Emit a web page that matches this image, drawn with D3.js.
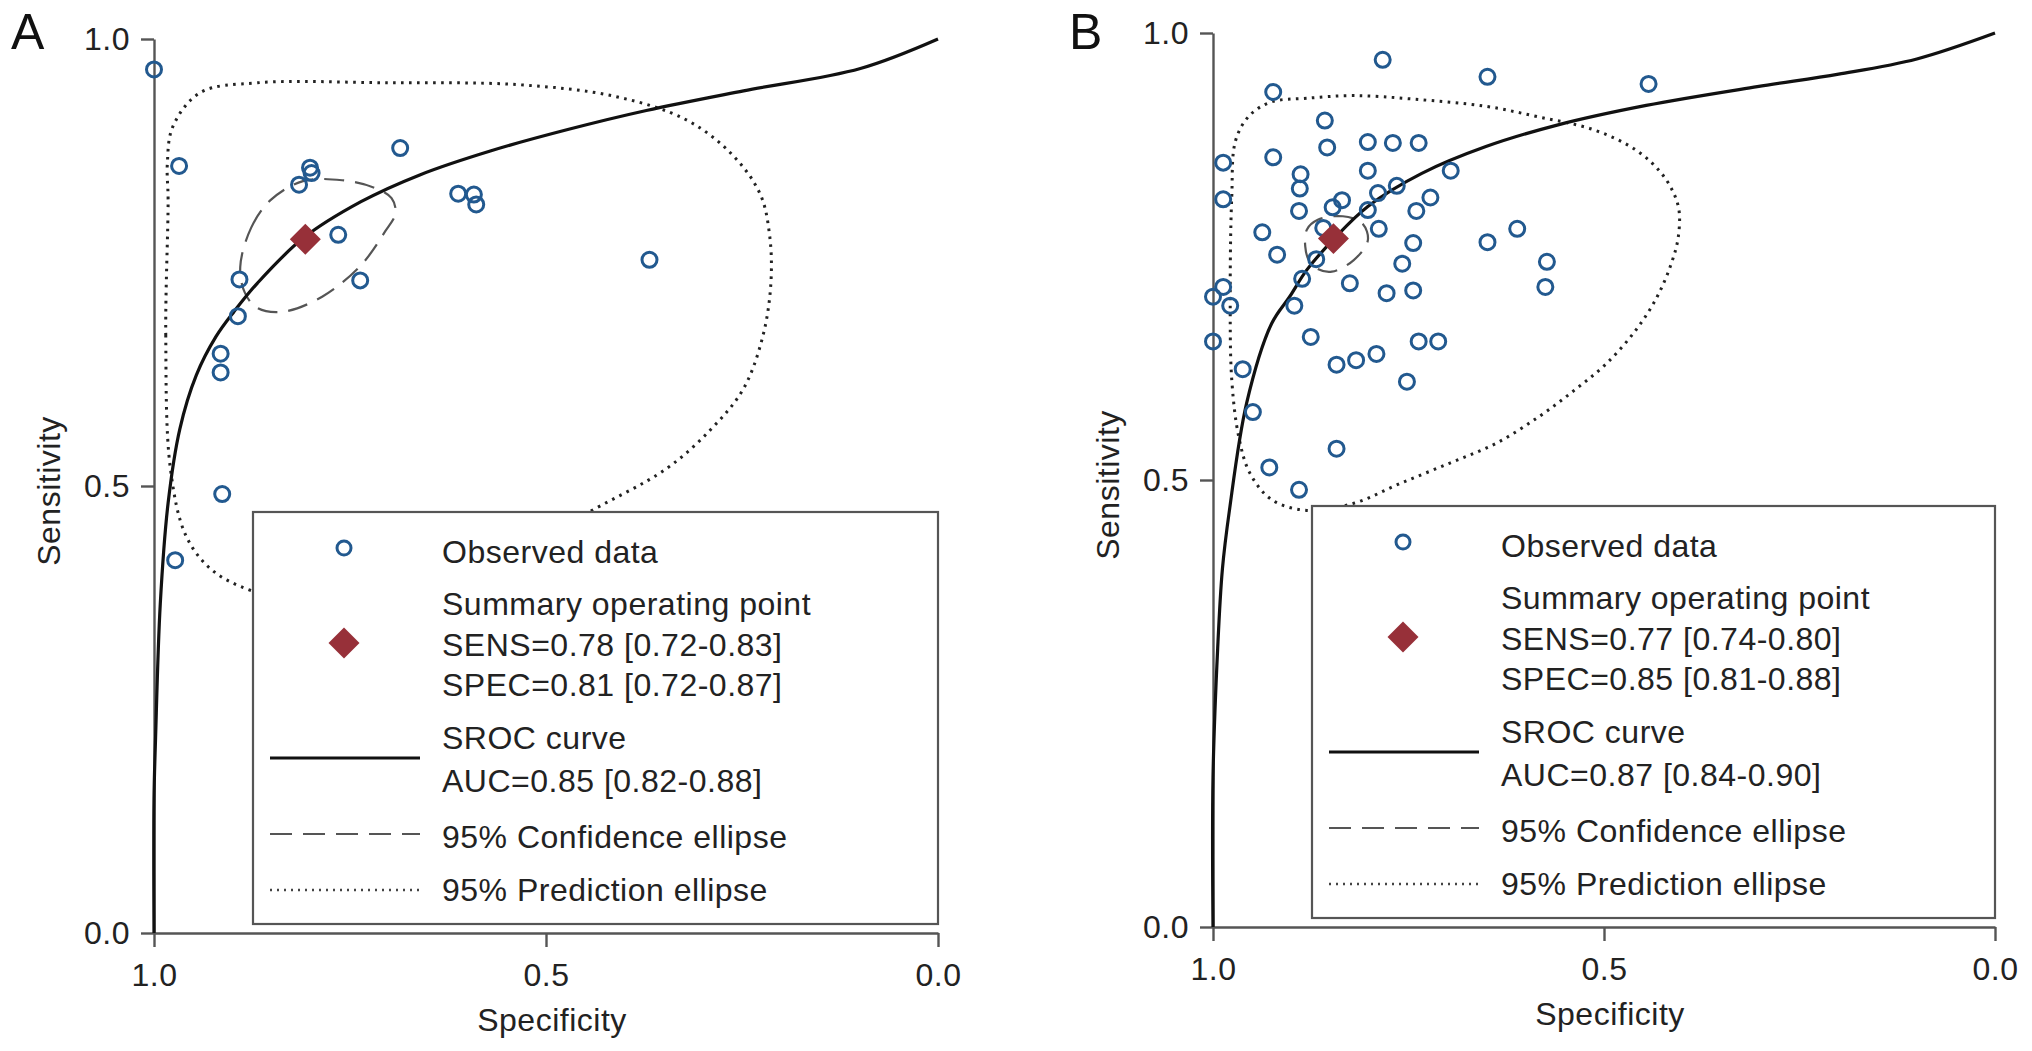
<!DOCTYPE html>
<html>
<head>
<meta charset="utf-8">
<script src="https://cdn.jsdelivr.net/npm/d3@7"></script>
<style>
  html, body { margin: 0; padding: 0; background: #fff; }
  svg { display: block; font-family: "Liberation Sans", Arial, Helvetica, sans-serif; }
</style>
</head>
<body>
<svg id="chart" width="2032" height="1051"></svg>
<script>
// values, as [specificity, sensitivity]
const ticks = [0, 0.5, 1];

const obsA = [
  [1.000, 0.966], [0.968, 0.858], [0.801, 0.856], [0.799, 0.850], [0.815, 0.837],
  [0.686, 0.878], [0.612, 0.827], [0.592, 0.826], [0.589, 0.815], [0.765, 0.781],
  [0.737, 0.730], [0.891, 0.731], [0.893, 0.690], [0.915, 0.648], [0.915, 0.627],
  [0.913, 0.491], [0.973, 0.417], [0.368, 0.753]
];
const summaryA = [0.807, 0.776];
const srocA = [
  [1.000, 0.000], [1.000, 0.150], [0.998, 0.218], [0.992, 0.368], [0.982, 0.481],
  [0.967, 0.564], [0.946, 0.624], [0.921, 0.667], [0.898, 0.695], [0.868, 0.727],
  [0.810, 0.777], [0.736, 0.818], [0.661, 0.848], [0.570, 0.875], [0.471, 0.899],
  [0.372, 0.920], [0.248, 0.942], [0.099, 0.967], [0.000, 1.000]
];
const confA = [
  [0.890, 0.745], [0.876, 0.789], [0.851, 0.820], [0.810, 0.841], [0.760, 0.842],
  [0.720, 0.834], [0.697, 0.822], [0.692, 0.805], [0.705, 0.785], [0.736, 0.747],
  [0.785, 0.712], [0.835, 0.695], [0.868, 0.699], [0.884, 0.716]
];
const predA = [
  [0.982, 0.820], [0.985, 0.669], [0.979, 0.519], [0.959, 0.444], [0.926, 0.406],
  [0.876, 0.383], [0.785, 0.365], [0.661, 0.372], [0.537, 0.421], [0.455, 0.466],
  [0.347, 0.519], [0.289, 0.564], [0.248, 0.609], [0.223, 0.669], [0.213, 0.729],
  [0.215, 0.782], [0.227, 0.827], [0.264, 0.872], [0.322, 0.910], [0.413, 0.936],
  [0.537, 0.949], [0.702, 0.951], [0.868, 0.951], [0.941, 0.940], [0.976, 0.902],
  [0.983, 0.860]
];
const legendA = [
  "Observed data", "Summary operating point", "SENS=0.78 [0.72-0.83]",
  "SPEC=0.81 [0.72-0.87]", "SROC curve", "AUC=0.85 [0.82-0.88]",
  "95% Confidence ellipse", "95% Prediction ellipse"
];

const obsB = [
  [0.783, 0.970], [0.649, 0.951], [0.443, 0.943], [0.923, 0.934], [0.857, 0.902],
  [0.854, 0.872], [0.802, 0.878], [0.770, 0.877], [0.737, 0.877], [0.923, 0.861],
  [0.987, 0.855], [0.802, 0.846], [0.888, 0.842], [0.889, 0.826], [0.696, 0.846],
  [0.987, 0.814], [0.835, 0.813], [0.847, 0.805], [0.789, 0.821], [0.765, 0.829],
  [0.722, 0.816], [0.890, 0.801], [0.802, 0.802], [0.740, 0.801], [0.937, 0.777],
  [0.859, 0.782], [0.788, 0.781], [0.611, 0.781], [0.649, 0.766], [0.744, 0.765],
  [0.918, 0.752], [0.868, 0.747], [0.758, 0.742], [0.573, 0.744], [0.886, 0.725],
  [0.825, 0.720], [0.575, 0.716], [0.778, 0.709], [0.744, 0.712], [0.987, 0.716],
  [1.000, 0.705], [0.978, 0.695], [0.896, 0.695], [1.000, 0.655], [0.875, 0.660],
  [0.737, 0.655], [0.712, 0.655], [0.791, 0.641], [0.817, 0.634], [0.842, 0.629],
  [0.962, 0.624], [0.752, 0.610], [0.949, 0.576], [0.842, 0.535], [0.928, 0.514],
  [0.890, 0.489]
];
const summaryB = [0.846, 0.770];
const srocB = [
  [1.000, 0.000], [1.000, 0.167], [0.994, 0.312], [0.988, 0.400], [0.979, 0.466],
  [0.957, 0.586], [0.925, 0.675], [0.902, 0.705], [0.880, 0.735], [0.845, 0.770],
  [0.802, 0.806], [0.733, 0.843], [0.651, 0.873], [0.560, 0.897], [0.446, 0.919],
  [0.304, 0.940], [0.200, 0.954], [0.100, 0.971], [0.000, 1.000]
];
const confB = [
  [0.882, 0.761], [0.880, 0.780], [0.866, 0.791], [0.834, 0.795], [0.809, 0.787],
  [0.802, 0.768], [0.820, 0.746], [0.848, 0.733], [0.866, 0.736], [0.877, 0.745]
];
const predB = [
  [0.978, 0.705], [0.976, 0.817], [0.971, 0.880], [0.953, 0.908], [0.925, 0.923],
  [0.880, 0.927], [0.820, 0.930], [0.743, 0.926], [0.651, 0.918], [0.583, 0.906],
  [0.514, 0.892], [0.459, 0.869], [0.423, 0.839], [0.405, 0.806], [0.405, 0.772],
  [0.414, 0.742], [0.432, 0.705], [0.459, 0.668], [0.496, 0.631], [0.537, 0.601],
  [0.583, 0.571], [0.638, 0.541], [0.697, 0.519], [0.761, 0.496], [0.820, 0.474],
  [0.880, 0.466], [0.925, 0.478], [0.953, 0.508], [0.967, 0.548], [0.976, 0.612]
];
const legendB = [
  "Observed data", "Summary operating point", "SENS=0.77 [0.74-0.80]",
  "SPEC=0.85 [0.81-0.88]", "SROC curve", "AUC=0.87 [0.84-0.90]",
  "95% Confidence ellipse", "95% Prediction ellipse"
];

const BLUE = "#22598f", RED = "#973039", AXIS = "#555", INK = "#222";
const FONT = 32, SPACING = "0.5px";

const svg = d3.select("#chart");

function drawPanel(p) {
  const g = svg.append("g").attr("transform", `translate(${p.left},${p.top})`);
  const x = d3.scaleLinear().domain([1, 0]).range([0, p.width]);
  const y = d3.scaleLinear().domain([0, 1]).range([p.height, 0]);
  const line = d3.line().x(d => x(d[0])).y(d => y(d[1]));

  // prediction region (dotted), confidence region (dashed)
  g.append("path")
    .attr("d", line.curve(d3.curveCatmullRomClosed.alpha(0.5))(p.pred))
    .attr("fill", "none").attr("stroke", "#222").attr("stroke-width", 3)
    .attr("stroke-dasharray", "2.6 5.4");
  g.append("path")
    .attr("d", line.curve(d3.curveCatmullRomClosed.alpha(0.5))(p.conf))
    .attr("fill", "none").attr("stroke", "#555").attr("stroke-width", 2.2)
    .attr("stroke-dasharray", "20 11");

  // axes
  const yAxis = g.append("g")
    .call(d3.axisLeft(y).tickValues(ticks).tickFormat(d3.format(".1f"))
      .tickSize(13).tickSizeOuter(0).tickPadding(11));
  const xAxis = g.append("g").attr("transform", `translate(0,${p.height})`)
    .call(d3.axisBottom(x).tickValues(ticks).tickFormat(d3.format(".1f"))
      .tickSize(14).tickSizeOuter(0).tickPadding(16));
  [yAxis, xAxis].forEach(a => {
    a.attr("font-size", FONT).attr("font-family", null);
    a.select(".domain").attr("stroke", AXIS).attr("stroke-width", 2.4);
    a.selectAll(".tick line").attr("stroke", AXIS).attr("stroke-width", 2.4);
    a.selectAll(".tick text").attr("fill", INK).attr("letter-spacing", SPACING);
  });

  // SROC curve
  g.append("path")
    .attr("d", line.curve(d3.curveCatmullRom.alpha(0.5))(p.sroc))
    .attr("fill", "none").attr("stroke", "#111").attr("stroke-width", 3.2);

  g.selectAll("circle.obs").data(p.obs).enter().append("circle")
    .attr("class", "obs")
    .attr("cx", d => x(d[0])).attr("cy", d => y(d[1])).attr("r", 7.5)
    .attr("fill", "none").attr("stroke", BLUE).attr("stroke-width", 3);

  const diamond = d3.symbol().type(d3.symbolSquare).size(480);
  g.append("path").attr("d", diamond())
    .attr("transform", `translate(${x(p.summary[0])},${y(p.summary[1])}) rotate(45)`)
    .attr("fill", RED);

  // axis titles and panel letter
  g.append("text")
    .attr("transform", `translate(${-94},${p.height / 2 + 5}) rotate(-90)`)
    .attr("text-anchor", "middle").attr("font-size", FONT).attr("fill", INK)
    .attr("letter-spacing", SPACING)
    .text("Sensitivity");
  g.append("text")
    .attr("x", p.width / 2 + 6).attr("y", p.height + 98)
    .attr("text-anchor", "middle").attr("font-size", FONT).attr("fill", INK)
    .attr("letter-spacing", SPACING)
    .text("Specificity");
  svg.append("text")
    .attr("x", p.letterX).attr("y", 49)
    .attr("font-size", 50).attr("fill", "#111")
    .text(p.letter);

  // legend box, drawn over the plot
  const lg = g.append("g").attr("transform", "translate(99,473)");
  const lw = p.width - 99, lh = 412;
  lg.append("rect").attr("width", lw).attr("height", lh)
    .attr("fill", "#fff").attr("stroke", AXIS).attr("stroke-width", 2.2);
  const textY = [51, 103, 144, 184, 237, 280, 336, 389];
  lg.selectAll("text").data(p.legend).enter().append("text")
    .attr("x", 189).attr("y", (d, i) => textY[i])
    .attr("font-size", FONT).attr("fill", INK).attr("letter-spacing", SPACING)
    .text(d => d);
  lg.append("circle").attr("cx", 91).attr("cy", 36).attr("r", 7)
    .attr("fill", "none").attr("stroke", BLUE).attr("stroke-width", 3);
  lg.append("path").attr("d", diamond())
    .attr("transform", "translate(91,131) rotate(45)").attr("fill", RED);
  lg.append("line").attr("x1", 17).attr("x2", 167).attr("y1", 246).attr("y2", 246)
    .attr("stroke", "#111").attr("stroke-width", 3.2);
  lg.append("line").attr("x1", 17).attr("x2", 167).attr("y1", 322).attr("y2", 322)
    .attr("stroke", "#555").attr("stroke-width", 2.2).attr("stroke-dasharray", "22 11");
  lg.append("line").attr("x1", 17).attr("x2", 167).attr("y1", 378).attr("y2", 378)
    .attr("stroke", "#444").attr("stroke-width", 2.4).attr("stroke-dasharray", "2 5");
}

drawPanel({
  left: 154, top: 39, width: 784, height: 894, letter: "A", letterX: 11,
  obs: obsA, summary: summaryA, sroc: srocA, conf: confA, pred: predA, legend: legendA
});
drawPanel({
  left: 1213, top: 33, width: 782, height: 894, letter: "B", letterX: 1069,
  obs: obsB, summary: summaryB, sroc: srocB, conf: confB, pred: predB, legend: legendB
});
</script>
</body>
</html>
